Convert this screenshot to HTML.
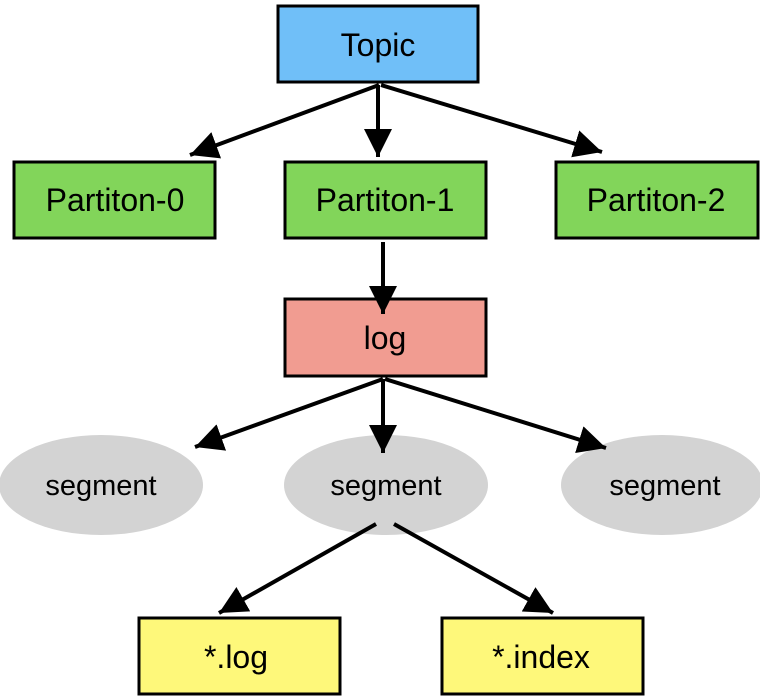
<!DOCTYPE html>
<html><head><style>body{margin:0;background:#fff}svg{display:block}text{font-family:"Liberation Sans",sans-serif;text-anchor:middle;dominant-baseline:central;fill:#000}</style></head>
<body>
<svg width="760" height="700" viewBox="0 0 760 700" xmlns="http://www.w3.org/2000/svg">
<defs><marker id="a" viewBox="0 0 10 10" refX="10" refY="5" markerWidth="7" markerHeight="7" orient="auto" markerUnits="strokeWidth"><path d="M0,0L10,5L0,10z" fill="#000"/></marker></defs>
<g stroke="#000" stroke-width="3">
<rect x="278" y="6" width="200" height="76" fill="#70bff8"/>
<rect x="14" y="162" width="201" height="76" fill="#82d55a"/>
<rect x="285" y="162" width="201" height="76" fill="#82d55a"/>
<rect x="556" y="162" width="202" height="76" fill="#82d55a"/>
<rect x="285" y="299" width="201" height="77" fill="#f19c91"/>
<rect x="139" y="618" width="201" height="76" fill="#fef87a"/>
<rect x="442" y="618" width="201" height="76" fill="#fef87a"/>
</g>
<g fill="#d3d3d3">
<ellipse cx="101" cy="485" rx="102" ry="50"/>
<ellipse cx="386" cy="485" rx="102" ry="50"/>
<ellipse cx="662" cy="485" rx="101" ry="50"/>
</g>
<g stroke="#000" stroke-width="4" fill="none" marker-end="url(#a)">
<line x1="379" y1="85" x2="190" y2="155"/>
<line x1="378" y1="85" x2="378" y2="157"/>
<line x1="381" y1="85" x2="602" y2="152"/>
<line x1="383" y1="242" x2="383" y2="314"/>
<line x1="383" y1="379" x2="195" y2="447"/>
<line x1="383" y1="379" x2="383" y2="453"/>
<line x1="385" y1="379" x2="606" y2="448"/>
<line x1="376" y1="524" x2="219" y2="613"/>
<line x1="394" y1="524" x2="553" y2="613"/>
</g>
<g font-size="32">
<text x="378" y="45">Topic</text>
<text x="115" y="200">Partiton-0</text>
<text x="385" y="200">Partiton-1</text>
<text x="656" y="200">Partiton-2</text>
<text x="385" y="338">log</text>
<text x="236" y="657">*.log</text>
<text x="541" y="657">*.index</text>
</g>
<g font-size="29">
<text x="101" y="486">segment</text>
<text x="386" y="486">segment</text>
<text x="665" y="486">segment</text>
</g>
</svg>
</body></html>
